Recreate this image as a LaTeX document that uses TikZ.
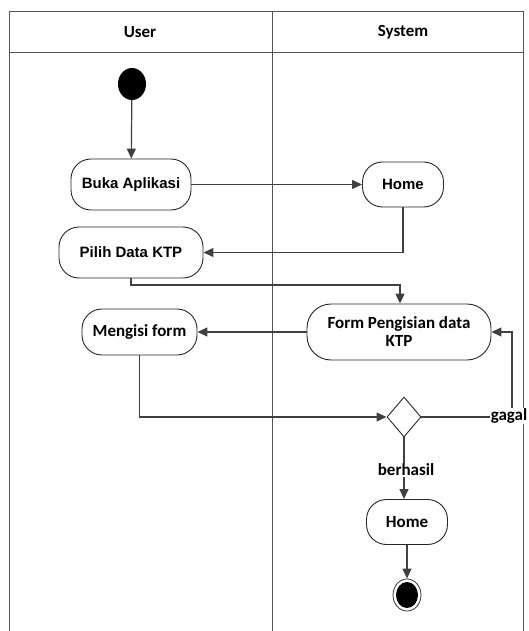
\documentclass[tikz,border=0pt]{standalone}
\usepackage{fontspec}
\setmainfont{Carlito}
\newfontfamily\arialbf{Liberation Sans}
\usetikzlibrary{arrows.meta,shapes.geometric}
\definecolor{ln}{HTML}{404040}
\definecolor{fr}{HTML}{555555}
\tikzset{
  act/.style={draw=black!85, line width=0.9pt, rounded corners=20pt, align=center, inner sep=0pt, font=\bfseries\fontsize{17}{18}\selectfont},
  actA/.style={act, font=\arialbf\bfseries\fontsize{15}{17}\selectfont},
  flow/.style={draw=ln, line width=1.2pt, -{Triangle[length=10pt,width=9pt]}},
  lbl/.style={font=\bfseries\fontsize{17}{18}\selectfont, fill=white, inner sep=1pt},
  frame/.style={draw=fr, line width=1pt}
}
\begin{document}
\begin{tikzpicture}[x=1pt,y=-1pt]
\useasboundingbox (0,0) rectangle (528,631);
% swimlanes
\draw[frame] (9,640) -- (9,12) -- (523,12) -- (523,640);
\draw[frame] (9,53) -- (523,53);
\draw[frame] (272,12) -- (272,640);
\node[font=\bfseries\fontsize{17}{18}\selectfont] (hu) at (140,32) {User};
\node[font=\bfseries\fontsize{17}{18}\selectfont] (hs) at (403,32) {System};
% nodes
\node[ellipse, fill=black, minimum width=28pt, minimum height=32pt, inner sep=0pt] (start) at (132,84) {};
\node[actA, minimum width=120pt, minimum height=51pt] (buka) at (131,184.5) {Buka Aplikasi};
\node[actA, minimum width=81pt, minimum height=45pt] (home1) at (403,184.5) {Home};
\node[actA, minimum width=144pt, minimum height=51pt] (pilih) at (131,252.5) {Pilih Data KTP};
\node[act, minimum width=184pt, minimum height=56pt, rounded corners=24pt] (form) at (399,332) {Form Pengisian data\\KTP};
\node[act, minimum width=115pt, minimum height=46pt] (isi) at (139.5,332) {Mengisi form};
\node[diamond, draw=black!85, line width=0.9pt, minimum width=34pt, minimum height=40pt, inner sep=0pt] (dec) at (404,417) {};
\node[act, minimum width=81pt, minimum height=45pt] (home2) at (407,522) {Home};
\node[ellipse, draw=black!80, line width=0.8pt, minimum width=28pt, minimum height=32pt, inner sep=0pt] (end) at (407,595) {};
\node[ellipse, fill=black, minimum width=22pt, minimum height=26pt, inner sep=0pt] (endin) at (407,595) {};
\coordinate (gc) at (512,417);
% edges
\draw[flow] (start) -- (buka);
\draw[flow] (buka) -- (home1);
\draw[flow] (home1.south) |- (pilih.east);
\draw[flow] (pilih.south) |- (400,285) -- (form.north -| 400,0);
\draw[flow] (form) -- (isi);
\draw[flow] (isi.south) |- (dec.west);
\draw[flow] (dec.east) -- (gc) |- (form.east);
\node[lbl] (gagal) at (509,416) {gagal};
\draw[flow] (dec.south) -- (home2.north -| dec.south) coordinate (hn);
\node[lbl] (berhasil) at (406,470) {berhasil};
\draw[flow] (home2) -- (end);
\end{tikzpicture}
\end{document}
